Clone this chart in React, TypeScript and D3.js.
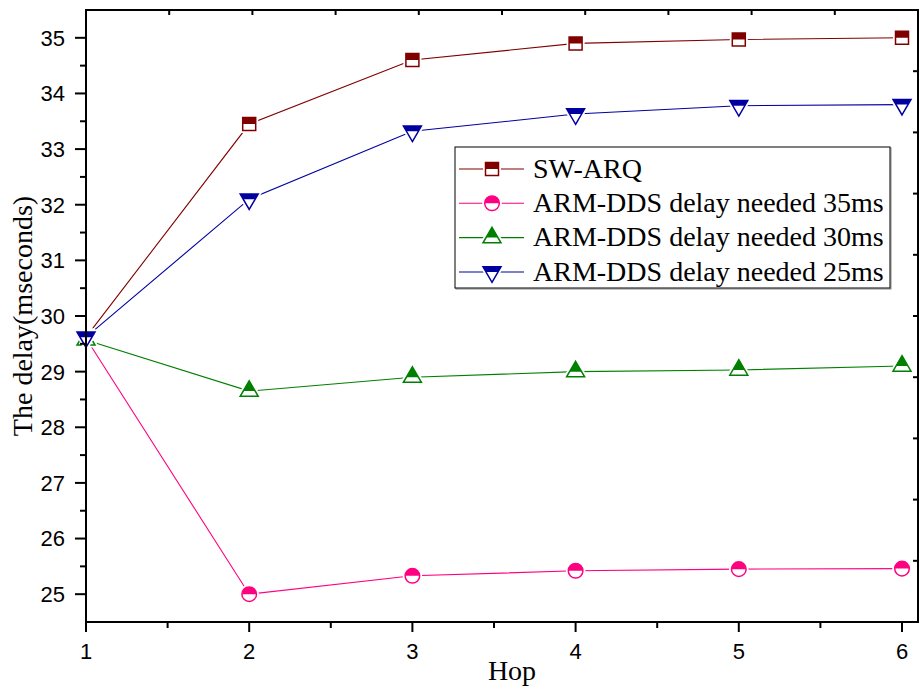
import React from "react";
import * as d3 from "d3";

// Hop counts on the x axis
const hops = [1, 2, 3, 4, 5, 6];

// Delay (ms) per hop for each scheme
const swArq = [29.62, 33.45, 34.6, 34.9, 34.97, 35.0];
const arm35 = [29.6, 25.0, 25.33, 25.42, 25.45, 25.46];
const arm30 = [29.57, 28.65, 28.9, 29.0, 29.03, 29.1];
const arm25 = [29.62, 32.1, 33.32, 33.63, 33.78, 33.8];

const seriesNames = [
  "SW-ARQ",
  "ARM-DDS delay needed 35ms",
  "ARM-DDS delay needed 30ms",
  "ARM-DDS delay needed 25ms",
];
const seriesColors = ["#800000", "#FF0080", "#008000", "#0000A0"];
const seriesShapes = ["square", "circle", "triUp", "triDown"];
const seriesValues = [swArq, arm35, arm30, arm25];

const xTicks = [1, 2, 3, 4, 5, 6];
const yTicks = [25, 26, 27, 28, 29, 30, 31, 32, 33, 34, 35];

const W = 920;
const H = 688;
const L = 86;
const R = 918;
const T = 10;
const B = 622;

const x = d3.scaleLinear().domain([1, 6]).range([L, 902]);
const y = d3.scaleLinear().domain([24.5, 35.5]).range([B, T]);
// evenly spaced inner ticks on the top and right frame edges
const topScale = d3.scaleLinear().domain([0, 10]).range([L, R]);
const rightScale = d3.scaleLinear().domain([0, 10]).range([B, T]);

const sansFont = "'Liberation Sans', Arial, sans-serif";
const serifFont = "'Liberation Serif', 'Times New Roman', serif";

function shapePath(shape: string): string {
  if (shape === "square") {
    const s = 6.5;
    return `M${-s},${-s}H${s}V${s}H${-s}Z`;
  }
  if (shape === "circle") {
    const r = 7.3;
    return `M${-r},0A${r},${r} 0 1,1 ${r},0A${r},${r} 0 1,1 ${-r},0Z`;
  }
  const w = 9;
  const h = 15.5;
  if (shape === "triUp") {
    return `M0,${(-2 * h) / 3}L${w},${h / 3}L${-w},${h / 3}Z`;
  }
  return `M0,${(2 * h) / 3}L${w},${-h / 3}L${-w},${-h / 3}Z`;
}

function Marker({ cx, cy, shape, color }: { cx: number; cy: number; shape: string; color: string }) {
  const d = shapePath(shape);
  return (
    <g transform={`translate(${cx},${cy})`}>
      <path d={d} fill="white" stroke="white" strokeWidth={5} />
      <path d={d} fill="white" />
      <path d={d} fill={color} clipPath="url(#topHalf)" />
      <path d={d} fill="none" stroke={color} strokeWidth={1.5} />
    </g>
  );
}

export default function App() {
  const line = d3
    .line<number>()
    .x((_, i) => x(hops[i]))
    .y((v) => y(v));

  const xMinor = d3.range(1.5, 6.01, 1);
  const yMinor = d3.range(25.5, 35.01, 1);
  const topTicks = d3.range(1, 10);
  const rightTicks = d3.range(1, 10);

  const legendRows = [169, 203.3, 237.6, 272];

  return (
    <svg
      width={W}
      height={H}
      style={{ position: "absolute", left: 0, top: 0, background: "white" }}
    >
      <defs>
        <clipPath id="topHalf">
          <rect x={-20} y={-20} width={40} height={20} />
        </clipPath>
      </defs>
      <rect width={W} height={H} fill="white" />

      {/* series lines */}
      {seriesValues.map((vals, si) => (
        <path
          key={`l${si}`}
          d={line(vals) || ""}
          fill="none"
          stroke={seriesColors[si]}
          strokeWidth={1.1}
        />
      ))}

      {/* series markers */}
      {seriesValues.map((vals, si) =>
        vals.map((v, i) => (
          <Marker
            key={`m${si}-${i}`}
            cx={x(hops[i])}
            cy={y(v)}
            shape={seriesShapes[si]}
            color={seriesColors[si]}
          />
        ))
      )}

      {/* frame */}
      <rect x={L} y={T} width={R - L} height={B - T} fill="none" stroke="black" strokeWidth={2} />

      {/* left axis ticks */}
      {yTicks.map((t) => (
        <g key={`yt${t}`}>
          <line x1={L - 11} x2={L} y1={y(t)} y2={y(t)} stroke="black" strokeWidth={2} />
          <text
            x={65}
            y={y(t)}
            dy="0.36em"
            textAnchor="end"
            fontFamily={sansFont}
            fontSize={22}
          >
            {t}
          </text>
        </g>
      ))}
      {yMinor.map((t) => (
        <line key={`ym${t}`} x1={L - 6} x2={L} y1={y(t)} y2={y(t)} stroke="black" strokeWidth={2} />
      ))}

      {/* bottom axis ticks */}
      {xTicks.map((t) => (
        <g key={`xt${t}`}>
          <line x1={x(t)} x2={x(t)} y1={B} y2={B + 10} stroke="black" strokeWidth={2} />
          <text x={x(t)} y={659} textAnchor="middle" fontFamily={sansFont} fontSize={22}>
            {t}
          </text>
        </g>
      ))}
      {xMinor.map((t) => (
        <line key={`xm${t}`} x1={x(t)} x2={x(t)} y1={B} y2={B + 6} stroke="black" strokeWidth={2} />
      ))}

      {/* top and right inner ticks */}
      {topTicks.map((t) => (
        <line
          key={`tt${t}`}
          x1={topScale(t)}
          x2={topScale(t)}
          y1={T}
          y2={T + 5}
          stroke="black"
          strokeWidth={2}
        />
      ))}
      {rightTicks.map((t) => (
        <line
          key={`rt${t}`}
          x1={R - 5}
          x2={R}
          y1={rightScale(t)}
          y2={rightScale(t)}
          stroke="black"
          strokeWidth={2}
        />
      ))}

      {/* axis titles */}
      <text x={512} y={680} textAnchor="middle" fontFamily={serifFont} fontSize={28}>
        Hop
      </text>
      <text
        transform={`translate(32,${(T + B) / 2}) rotate(-90)`}
        textAnchor="middle"
        fontFamily={serifFont}
        fontSize={28}
      >
        The delay(mseconds)
      </text>

      {/* legend */}
      <rect x={456} y={148} width={435} height={141} fill="none" stroke="#888" strokeWidth={1} />
      <rect x={455} y={147} width={435} height={141} fill="white" stroke="black" strokeWidth={1} />
      {seriesNames.map((name, si) => (
        <g key={`lg${si}`}>
          <line
            x1={459}
            x2={524}
            y1={legendRows[si]}
            y2={legendRows[si]}
            stroke={seriesColors[si]}
            strokeWidth={1.1}
          />
          <Marker cx={492} cy={legendRows[si]} shape={seriesShapes[si]} color={seriesColors[si]} />
          <text x={533} y={legendRows[si] + 8.5} fontFamily={serifFont} fontSize={28}>
            {name}
          </text>
        </g>
      ))}
    </svg>
  );
}
